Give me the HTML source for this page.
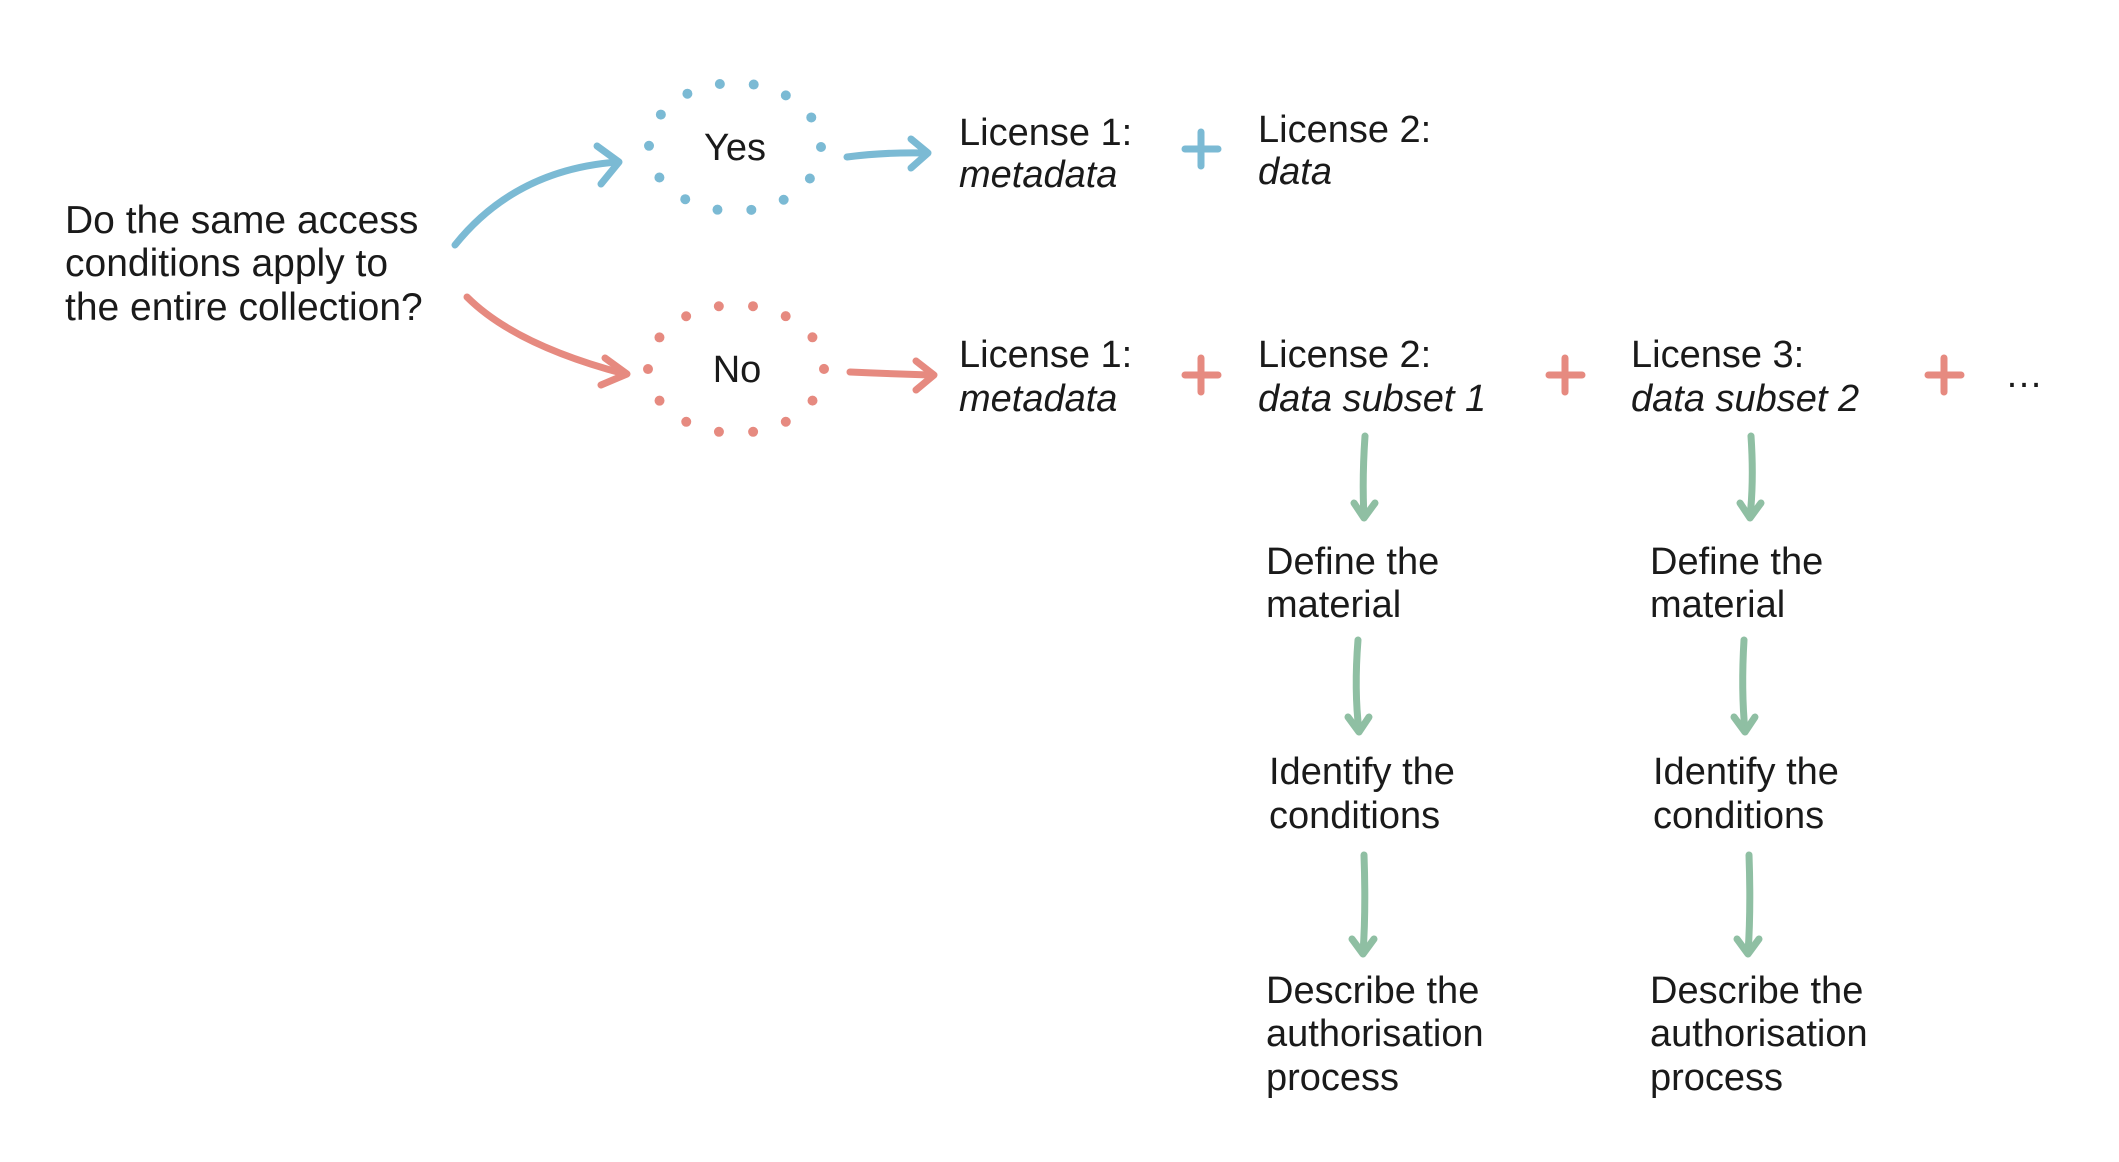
<!DOCTYPE html>
<html><head><meta charset="utf-8"><style>
html,body{margin:0;padding:0;background:#fff;}
svg{display:block}
text{font-family:"Liberation Sans",sans-serif;font-size:38px;fill:#1a1a1a;}
.i{font-style:italic}
.q{font-size:39px}
</style></head><body>
<svg width="2119" height="1162" viewBox="0 0 2119 1162" xmlns="http://www.w3.org/2000/svg">
<text x="65" y="233" class="q">Do the same access</text>
<text x="65" y="276" class="q">conditions apply to</text>
<text x="65" y="320" class="q">the entire collection?</text>
<g transform="translate(-5,0)">
<g fill="none" stroke-linecap="round" stroke-linejoin="round">
<ellipse cx="740" cy="147" rx="86" ry="64" stroke="#7bbad4" stroke-width="10" stroke-dasharray="0 34"/>
<ellipse cx="741" cy="369" rx="88" ry="64" stroke="#e68a80" stroke-width="10" stroke-dasharray="0 34.3"/>
<g stroke="#7bbad4" stroke-width="7">
<path d="M460 245 Q520 170 622 162"/>
<path d="M602 146 L624 162 L606 184"/>
<path d="M852 157 Q890 152 932 153"/>
<path d="M916 139 L933 153 L916 168"/>
<path d="M1206 132 V166 M1190 149 H1223"/>
</g>
<g stroke="#e68a80" stroke-width="7">
<path d="M472 297 Q520 345 630 374"/>
<path d="M610 358 L632 374 L606 385"/>
<path d="M855 372 Q900 374 938 375"/>
<path d="M921 361 L939 375 L921 390"/>
<path d="M1206 358 V392 M1190 375 H1223"/>
<path d="M1570 358 V392 M1554 375 H1587"/>
<path d="M1949 358 V392 M1933 375 H1966"/>
</g>
<g stroke="#8fbfa3" stroke-width="7">
<path d="M1370 436 Q1367 480 1369 517"/><path d="M1359 503 L1369 518 L1380 503"/>
<path d="M1363 640 Q1359 690 1364 731"/><path d="M1353 717 L1364 732 L1374 717"/>
<path d="M1369 855 Q1371 910 1368 953"/><path d="M1357 939 L1368 954 L1379 939"/>
<path d="M1756 436 Q1759 480 1755 517"/><path d="M1745 503 L1755 518 L1766 503"/>
<path d="M1749 640 Q1746 690 1750 731"/><path d="M1739 717 L1750 732 L1760 717"/>
<path d="M1754 855 Q1756 910 1753 953"/><path d="M1742 939 L1753 954 L1764 939"/>
</g>
</g>
<text x="740" y="160" text-anchor="middle">Yes</text>
<text x="742" y="382" text-anchor="middle">No</text>
<text x="964" y="145">License 1:</text>
<text x="964" y="187" class="i">metadata</text>
<text x="1263" y="142">License 2:</text>
<text x="1263" y="184" class="i">data</text>
<text x="964" y="367">License 1:</text>
<text x="964" y="411" class="i">metadata</text>
<text x="1263" y="367">License 2:</text>
<text x="1263" y="411" class="i">data subset 1</text>
<text x="1636" y="367">License 3:</text>
<text x="1636" y="411" class="i">data subset 2</text>
<text x="2010" y="387">…</text>
<text x="1271" y="574">Define the</text>
<text x="1271" y="617">material</text>
<text x="1274" y="784">Identify the</text>
<text x="1274" y="828">conditions</text>
<text x="1271" y="1003">Describe the</text>
<text x="1271" y="1046">authorisation</text>
<text x="1271" y="1090">process</text>
<text x="1655" y="574">Define the</text>
<text x="1655" y="617">material</text>
<text x="1658" y="784">Identify the</text>
<text x="1658" y="828">conditions</text>
<text x="1655" y="1003">Describe the</text>
<text x="1655" y="1046">authorisation</text>
<text x="1655" y="1090">process</text>
</g>
</svg>
</body></html>
